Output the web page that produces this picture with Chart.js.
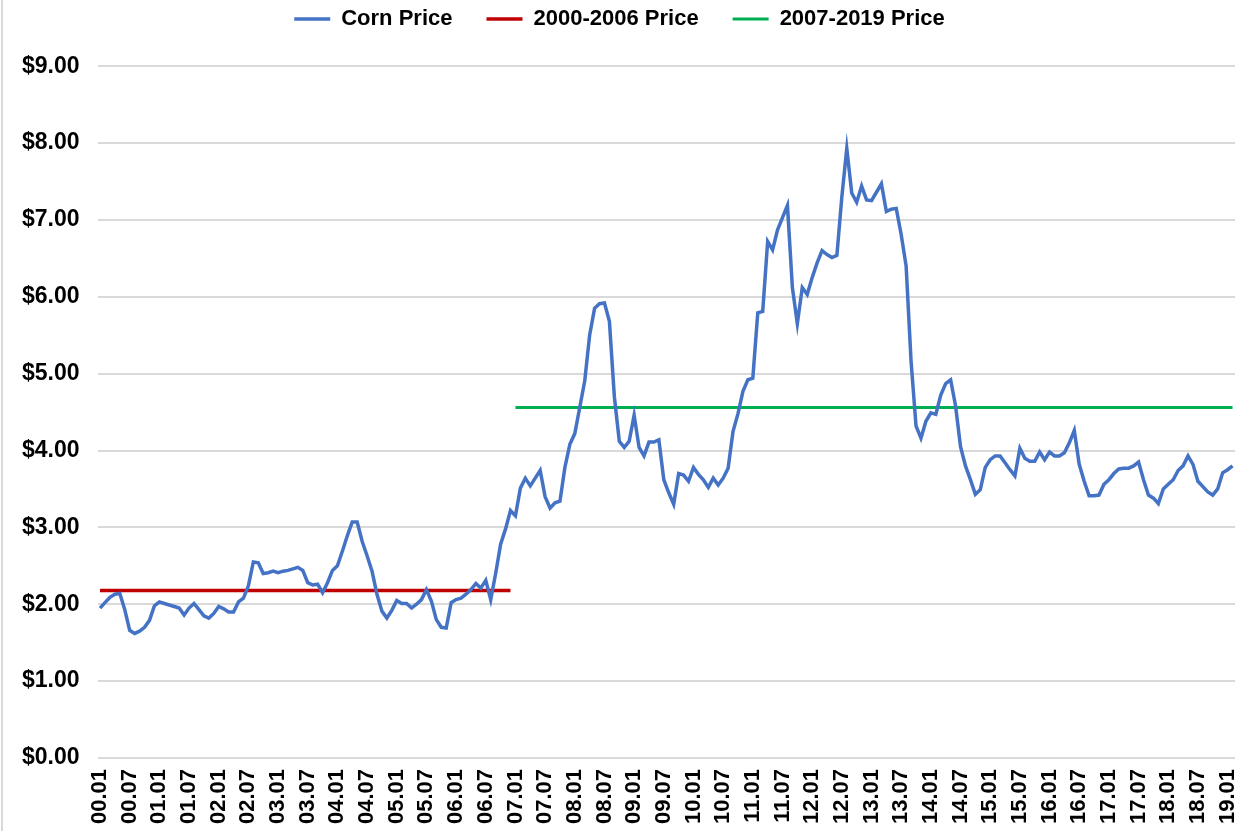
<!DOCTYPE html>
<html>
<head>
<meta charset="utf-8">
<script src="https://cdn.jsdelivr.net/npm/chart.js@4.4.1/dist/chart.umd.min.js"></script>
<style>
  html, body { margin: 0; padding: 0; background: #fff; }
  #wrap { position: relative; width: 1249px; height: 831px; }
  #wrap:before { content: ''; position: absolute; left: 1px; top: 0; width: 2px; height: 831px; background: #d9d9d9; }
</style>
</head>
<body>
<div id="wrap"><canvas id="myChart" width="1249" height="831"></canvas></div>
<script>
// monthly corn price, 2000.01 -> 2019.02 (one row per year)
const cornPrice = [
  1.95, 2.02, 2.09, 2.13, 2.14, 1.93, 1.66, 1.62, 1.65, 1.70, 1.79, 1.98,
  2.03, 2.01, 1.99, 1.97, 1.95, 1.86, 1.95, 2.01, 1.93, 1.85, 1.82, 1.88,
  1.97, 1.94, 1.90, 1.90, 2.03, 2.08, 2.24, 2.55, 2.54, 2.40, 2.41, 2.43,
  2.41, 2.43, 2.44, 2.46, 2.48, 2.44, 2.28, 2.25, 2.26, 2.15, 2.28, 2.44,
  2.50, 2.69, 2.89, 3.07, 3.07, 2.82, 2.63, 2.43, 2.13, 1.91, 1.82, 1.92,
  2.05, 2.01, 2.01, 1.95, 2.00, 2.06, 2.19, 2.04, 1.80, 1.70, 1.69, 2.02,
  2.06, 2.08, 2.13, 2.19, 2.27, 2.21, 2.31, 2.06, 2.40, 2.78, 2.98, 3.22,
  3.15, 3.51, 3.64, 3.54, 3.64, 3.74, 3.40, 3.25, 3.32, 3.34, 3.78, 4.08,
  4.22, 4.56, 4.90, 5.50, 5.85, 5.91, 5.92, 5.68, 4.70, 4.12, 4.04, 4.12,
  4.46, 4.04, 3.93, 4.11, 4.11, 4.14, 3.62, 3.45, 3.30, 3.70, 3.68, 3.60,
  3.78, 3.69, 3.62, 3.52, 3.64, 3.55, 3.64, 3.77, 4.25, 4.48, 4.77, 4.92,
  4.94, 5.79, 5.81, 6.72, 6.61, 6.87, 7.03, 7.19, 6.12, 5.65, 6.12, 6.03,
  6.25, 6.44, 6.60, 6.55, 6.51, 6.54, 7.30, 7.93, 7.35, 7.23, 7.44, 7.26,
  7.25, 7.36, 7.47, 7.11, 7.14, 7.15, 6.81, 6.40, 5.16, 4.32, 4.16, 4.38,
  4.49, 4.47, 4.72, 4.87, 4.92, 4.58, 4.05, 3.80, 3.62, 3.43, 3.49, 3.78,
  3.88, 3.93, 3.93, 3.84, 3.75, 3.67, 4.03, 3.90, 3.86, 3.86, 3.98, 3.88,
  3.98, 3.93, 3.93, 3.97, 4.10, 4.26, 3.82, 3.60, 3.41, 3.41, 3.42, 3.56,
  3.62, 3.70, 3.76, 3.77, 3.77, 3.80, 3.85, 3.62, 3.42, 3.38, 3.31, 3.50,
  3.56, 3.62, 3.74, 3.80, 3.93, 3.82, 3.60, 3.53, 3.46, 3.42, 3.50, 3.71,
  3.75, 3.80
];

// period averages
const avg2000to2006 = 2.18;
const avg2007to2019 = 4.56;
const splitIndex = 84; // 2007.01

// category labels yy.mm, ticks shown on .01 and .07
const months = [];
for (let y = 0; months.length < cornPrice.length; y++) {
  for (let m = 1; m <= 12 && months.length < cornPrice.length; m++) {
    months.push(String(y).padStart(2, '0') + '.' + String(m).padStart(2, '0'));
  }
}
const shownMonths = ['01', '07'];

const avgEarly = cornPrice.map((v, i) => i < splitIndex ? avg2000to2006 : null);
const avgLate = cornPrice.map((v, i) => i >= splitIndex ? avg2007to2019 : null);

const fam = '"Liberation Sans", Arial, sans-serif';
const ctx = document.getElementById('myChart');

new Chart(ctx, {
  type: 'line',
  data: {
    labels: months,
    datasets: [
      { label: 'Corn Price', data: cornPrice, borderColor: '#4472C4', backgroundColor: '#4472C4', borderWidth: 3.5, pointRadius: 0, tension: 0 },
      { label: '2000-2006 Price', data: avgEarly, borderColor: '#C00000', backgroundColor: '#C00000', borderWidth: 3.5, pointRadius: 0 },
      { label: '2007-2019 Price', data: avgLate, borderColor: '#00B050', backgroundColor: '#00B050', borderWidth: 3, pointRadius: 0 }
    ]
  },
  options: {
    responsive: false,
    animation: false,
    layout: { padding: { left: 4, right: 14, top: -26, bottom: 4 } },
    plugins: {
      tooltip: { enabled: false },
      legend: {
        position: 'top',
        labels: {
          usePointStyle: true,
          pointStyle: 'line',
          pointStyleWidth: 36,
          padding: 34,
          color: '#000',
          font: { family: fam, size: 22, weight: 'bold' }
        }
      },
      // empty spacer between legend and plot
      title: { display: true, text: '', weight: 500, font: { size: 1 }, padding: { top: 25, bottom: 0 } }
    },
    scales: {
      x: {
        offset: true,
        grid: { display: false },
        border: { display: false },
        afterFit: (s) => { s.paddingLeft = 0; s.paddingRight = 0; },
        ticks: {
          autoSkip: false,
          minRotation: 90,
          maxRotation: 90,
          color: '#000',
          font: { family: fam, size: 22, weight: 'bold' },
          callback: function(value) {
            const l = this.getLabelForValue(value);
            return shownMonths.includes(l.slice(3)) ? l : null;
          }
        }
      },
      y: {
        min: 0,
        max: 9,
        border: { display: false },
        grid: { color: '#d9d9d9', lineWidth: 2, drawTicks: false },
        ticks: {
          stepSize: 1,
          padding: 18,
          color: '#000',
          font: { family: fam, size: 23, weight: 'bold' },
          callback: (v) => '$' + v.toFixed(2)
        }
      }
    }
  }
});
</script>
</body>
</html>
